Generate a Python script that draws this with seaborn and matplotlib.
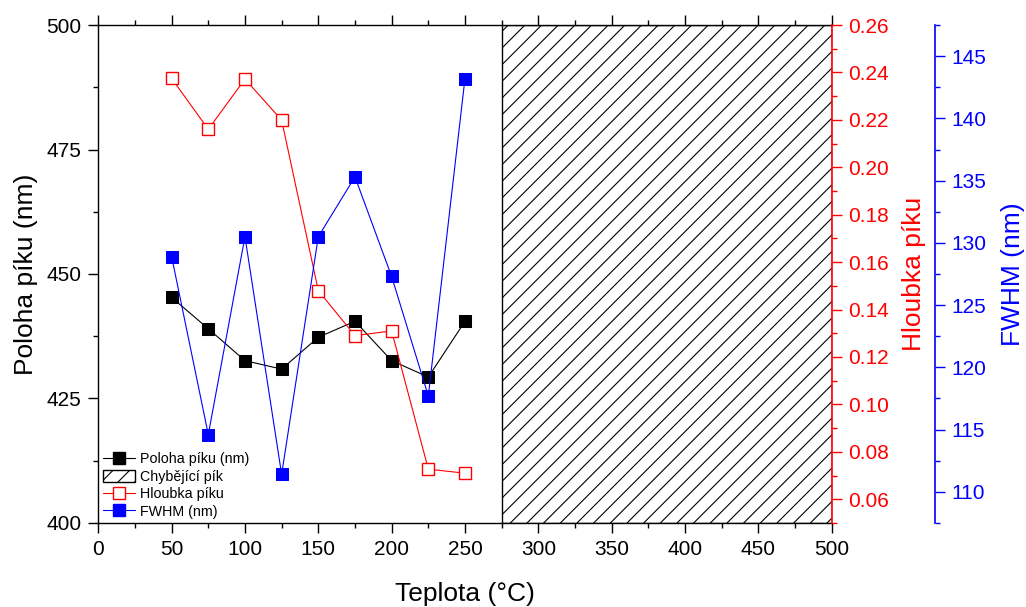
import numpy as np
import pandas as pd
import matplotlib
matplotlib.use("Agg")
import matplotlib.pyplot as plt
from matplotlib.ticker import MultipleLocator, FormatStrFormatter
from matplotlib.lines import Line2D
from matplotlib.patches import Patch
import seaborn as sns

# ---- data ----
teplota = [50, 75, 100, 125, 150, 175, 200, 225, 250]
poloha = [445.3, 439.0, 432.6, 430.9, 437.3, 440.5, 432.6, 429.3, 440.5]
hloubka = [0.2375, 0.2160, 0.2372, 0.2199, 0.1480, 0.1290, 0.1310, 0.0727, 0.0710]
fwhm = [128.9, 114.6, 130.5, 111.4, 130.5, 135.3, 127.3, 117.7, 143.2]
missing_range = [275, 500]

labels = ["Poloha píku (nm)", "Chybějící pík", "Hloubka píku", "FWHM (nm)"]

sns.set_style("ticks")
plt.rcParams["font.family"] = ["Liberation Sans", "DejaVu Sans"]
plt.rcParams["hatch.linewidth"] = 0.8
for k in ["text.color", "axes.labelcolor", "xtick.color", "ytick.color", "axes.edgecolor"]:
    plt.rcParams[k] = "black"

df = pd.DataFrame({"T": teplota, "poloha": poloha, "hloubka": hloubka, "fwhm": fwhm})

fig = plt.figure(figsize=(10.26, 6.07), dpi=100)
ax = fig.add_axes([0.0958, 0.1384, 0.7148, 0.8204])
ax2 = ax.twinx()
ax3 = ax.twinx()

TS = 15
LS = 19
MS = 8.2
LW = 0.8

# hatched missing region
ax.axvspan(missing_range[0], missing_range[1], facecolor="white", edgecolor="black",
           hatch="//", linewidth=1.0, zorder=0)

sns.lineplot(data=df, x="T", y="poloha", ax=ax, color="black", marker="s",
             markersize=MS, markeredgecolor="black", linewidth=LW, legend=False)
sns.lineplot(data=df, x="T", y="hloubka", ax=ax2, color="red", marker="s",
             markersize=MS, markerfacecolor="white", markeredgecolor="red",
             markeredgewidth=1.0, linewidth=LW, legend=False)
sns.lineplot(data=df, x="T", y="fwhm", ax=ax3, color="blue", marker="s",
             markersize=MS, markeredgecolor="blue", linewidth=LW, legend=False)

# main axes
ax.set_xlim(0, 500)
ax.set_ylim(400, 500)
ax.xaxis.set_major_locator(MultipleLocator(50))
ax.xaxis.set_minor_locator(MultipleLocator(25))
ax.yaxis.set_major_locator(MultipleLocator(25))
ax.yaxis.set_minor_locator(MultipleLocator(12.5))
ax.set_xlabel("Teplota (°C)", fontsize=LS, labelpad=17)
ax.set_ylabel("Poloha píku (nm)", fontsize=LS, labelpad=6)
ax.tick_params(axis="both", which="major", direction="out", length=7, width=1.0,
               labelsize=TS, pad=5, top=True, labeltop=False, colors="black")
ax.tick_params(axis="both", which="minor", direction="out", length=3.5, width=1.0,
               top=True, colors="black")
ax.tick_params(axis="y", which="both", right=False)
for s in ["left", "bottom", "top"]:
    ax.spines[s].set_visible(True)
    ax.spines[s].set_color("black")
    ax.spines[s].set_linewidth(1.0)
ax.spines["right"].set_visible(False)

# red axis
ax2.set_ylim(0.05, 0.26)
ax2.yaxis.set_major_locator(MultipleLocator(0.02))
ax2.yaxis.set_minor_locator(MultipleLocator(0.01))
ax2.yaxis.set_major_formatter(FormatStrFormatter("%.2f"))
ax2.set_ylabel("Hloubka píku", fontsize=LS, color="red", labelpad=9)
ax2.tick_params(axis="y", which="major", direction="out", length=7, width=1.0,
                labelsize=TS, pad=5, colors="red")
ax2.tick_params(axis="y", which="minor", direction="out", length=3.5, width=1.0,
                colors="red")
for s in ["left", "top", "bottom"]:
    ax2.spines[s].set_visible(False)
ax2.spines["right"].set_visible(True)
ax2.spines["right"].set_color("red")
ax2.spines["right"].set_linewidth(1.2)
ax2.set_yticks([t for t in np.arange(0.06, 0.2601, 0.02)])

# blue axis
ax3.spines["right"].set_position(("axes", 1.1409))
ax3.set_ylim(107.5, 147.5)
ax3.yaxis.set_major_locator(MultipleLocator(5))
ax3.yaxis.set_minor_locator(MultipleLocator(2.5))
ax3.set_ylabel("FWHM (nm)", fontsize=LS, color="blue", labelpad=10)
ax3.tick_params(axis="y", which="major", direction="out", length=7, width=1.0,
                labelsize=TS, pad=5, colors="blue")
ax3.tick_params(axis="y", which="minor", direction="out", length=3.5, width=1.0,
                colors="blue")
for s in ["left", "top", "bottom"]:
    ax3.spines[s].set_visible(False)
ax3.spines["right"].set_visible(True)
ax3.spines["right"].set_color("blue")
ax3.spines["right"].set_linewidth(1.2)

for a in (ax, ax2, ax3):
    a.set_xlim(0, 500)

# legend
handles = [
    Line2D([], [], color="black", marker="s", markersize=MS, linewidth=LW),
    Patch(facecolor="white", edgecolor="black", hatch="//", linewidth=1.0),
    Line2D([], [], color="red", marker="s", markersize=MS, markerfacecolor="white",
           markeredgecolor="red", linewidth=LW),
    Line2D([], [], color="blue", marker="s", markersize=MS, linewidth=LW),
]
leg = ax3.legend(handles, labels, loc="lower left", bbox_to_anchor=(0.0, 0.0),
                 frameon=False, fontsize=10.3, handlelength=2.25, handleheight=1.0,
                 handletextpad=0.35, labelspacing=0.22, borderpad=0.2,
                 borderaxespad=0.1)

fig.savefig("out.png", dpi=100)
